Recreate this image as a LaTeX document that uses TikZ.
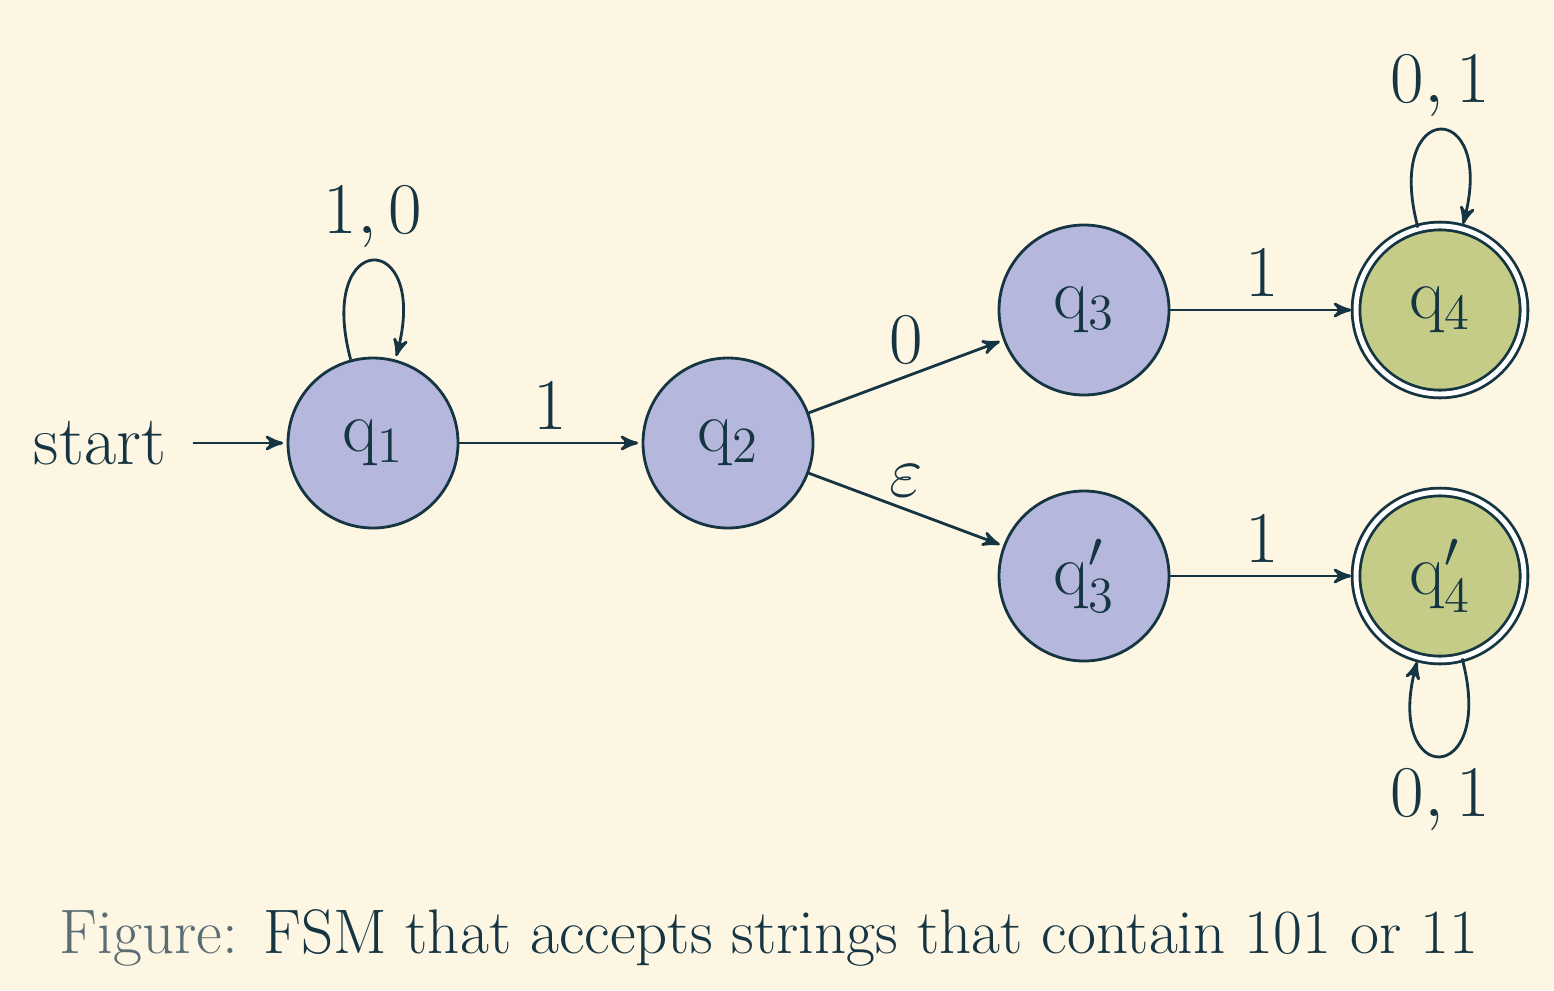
\documentclass[tikz,border=0pt]{standalone}
\usepackage{tikz}
\usetikzlibrary{arrows,positioning}

\definecolor{bgcream}{HTML}{FDF6E3}
\definecolor{inkblue}{HTML}{163542}
\definecolor{statefill}{HTML}{B5B8DC}
\definecolor{acceptfill}{HTML}{C5CC88}
\definecolor{figgray}{HTML}{5B6D74}

\begin{document}
\begin{tikzpicture}[>=stealth',shorten >=1pt,auto,node distance=3.55cm,on grid,
        thick,color=inkblue,font=\fontsize{20}{24}\selectfont,
        state node/.style={circle,draw=inkblue,fill=statefill,minimum size=1.7cm,inner sep=0pt},
        accept node/.style={state node,fill=acceptfill,double=white,double distance=1.4pt,minimum size=1.68cm}]
        \fill[bgcream] (0,0) rectangle (15.54,-9.90);
        \node[state node] (q1) at (3.73,-4.43) {$\mathrm{q}_1$};
        \node (start) at (1.00,-4.43) {start};
        \node[state node] (q2) [right=of q1] {$\mathrm{q}_2$};
        \node[state node] (q3) [above right=1.33cm and 3.56cm of q2] {$\mathrm{q}_3$};
        \node[state node] (q3p) [below right=1.33cm and 3.56cm of q2] {$\mathrm{q}_3'$};
        \node[accept node] (q4) [right=3.56cm of q3] {$\mathrm{q}_4$};
        \node[accept node] (q4p) [right=3.56cm of q3p] {$\mathrm{q}_4'$};
        \node (caption) at (7.69,-9.38) [font=\fontsize{17.9}{21}\selectfont]
            {\textcolor{figgray}{Figure:} FSM that accepts strings that contain 101 or 11};
        \path[->]
        (start) edge [shorten <=4pt] (q1)
        (q1) edge [loop above,looseness=7.8] node {$1, 0$} (q1)
        (q1) edge node {$1$} (q2)
        (q2) edge node [above] {$0$} (q3)
        (q2) edge node [above] {$\varepsilon$} (q3p)
        (q3) edge node {$1$} (q4)
        (q3p) edge node {$1$} (q4p)
        (q4) edge [loop above,looseness=7.8] node {$0, 1$} (q4)
        (q4p) edge [loop below,looseness=7.8] node {$0, 1$} (q4p)
        ;
        \end{tikzpicture}
\end{document}
